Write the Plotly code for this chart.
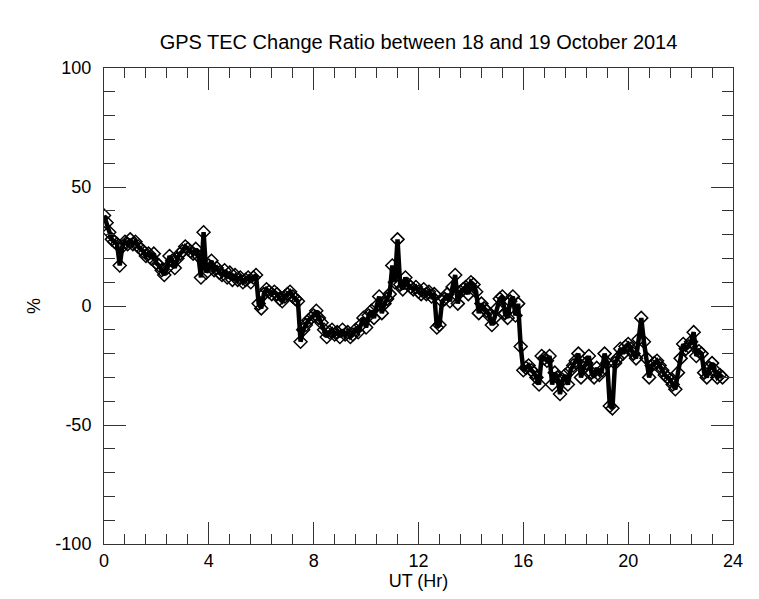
import plotly.graph_objects as go

# UT hours sampled every 0.1 h
step = 0.1
values = [
    38, 35, 31, 28, 27, 26, 17, 25, 27, 26,
    28, 26, 27, 25, 24, 23, 21, 22, 20, 22,
    18, 17, 15, 13, 16, 21, 19, 16, 20, 22,
    23, 25, 24, 23, 22, 24, 21, 12, 31, 14,
    17, 19, 15, 16, 14, 13, 15, 12, 14, 11,
    13, 11, 12, 10, 11, 12, 10, 12, 13, 1,
    -1, 5, 7, 6, 5, 6, 5, 3, 2, 4,
    5, 6, 4, 3, 2, -15, -10, -8, -6, -5,
    -4, -2, -5, -7, -10, -13, -11, -10, -12, -11,
    -13, -10, -12, -11, -13, -12, -10, -11, -8, -5,
    -9, -4, -2, -5, 0, 4, -3, 1, 3, 5,
    17, 10, 28, 9, 7, 12, 9, 8, 7, 8,
    6, 5, 7, 5, 6, 4, 5, -9, -8, 2,
    3, 5, 2, 8, 13, 1, 6, 7, 8, 5,
    10, 9, 6, -3, 1, -1, -2, -4, -8, -5,
    -1, 3, 4, -3, -5, 2, 4, -4, 1, -17,
    -27, -26, -25, -27, -28, -30, -33, -21, -22, -23,
    -21, -33, -28, -30, -37, -31, -29, -33, -27, -25,
    -23, -20, -30, -26, -24, -21, -28, -30, -26, -29,
    -27, -20, -24, -42, -43, -24, -22, -18, -20, -17,
    -16, -18, -20, -22, -14, -5, -15, -22, -30, -25,
    -24, -23, -25, -27, -29, -30, -31, -33, -35, -28,
    -22, -16, -18, -17, -15, -11, -21, -19, -20, -28,
    -30, -26, -24, -27, -30, -29, -30,
]
times = [round(i * step, 2) for i in range(len(values))]

x_ticks = [0, 4, 8, 12, 16, 20, 24]
y_ticks = [-100, -50, 0, 50, 100]

fig = go.Figure()
fig.add_trace(go.Scatter(
    x=times, y=values, mode="lines+markers",
    line=dict(color="black", width=4.5),
    marker=dict(symbol="diamond-open", size=10, color="black", line=dict(width=1.5, color="black")),
    showlegend=False,
))

font = dict(family="Liberation Sans, Arial, Helvetica, sans-serif", color="black")
axis_common = dict(
    showline=True, linecolor="#333", linewidth=1, mirror="allticks",
    ticks="inside", ticklen=22, tickcolor="#333", tickwidth=1,
    showgrid=False, zeroline=False, tickfont=dict(size=18, **font),
)
fig.update_xaxes(
    range=[0, 24], tickvals=x_ticks, ticktext=[str(v) for v in x_ticks],
    minor=dict(ticks="inside", dtick=0.8, ticklen=10, tickcolor="#333", showgrid=False),
    title=dict(text="UT (Hr)", font=dict(size=18, **font), standoff=4),
    **axis_common,
)
fig.update_yaxes(
    range=[-100, 100], tickvals=y_ticks, ticktext=[str(v) for v in y_ticks],
    minor=dict(ticks="inside", dtick=10, ticklen=11, tickcolor="#333", showgrid=False),
    ticklabelstandoff=8,
    title=dict(text="%", font=dict(size=18, **font), standoff=10),
    **axis_common,
)
fig.update_layout(
    width=759, height=599,
    margin=dict(l=104, r=26, t=68, b=53),
    paper_bgcolor="white", plot_bgcolor="white",
    title=dict(text="GPS TEC Change Ratio between 18 and 19 October 2014",
               x=(104 + 733) / 2 / 759, xanchor="center", y=1 - 42 / 599, yanchor="middle",
               font=dict(size=20, **font)),
)
fig.write_html("out.html")
